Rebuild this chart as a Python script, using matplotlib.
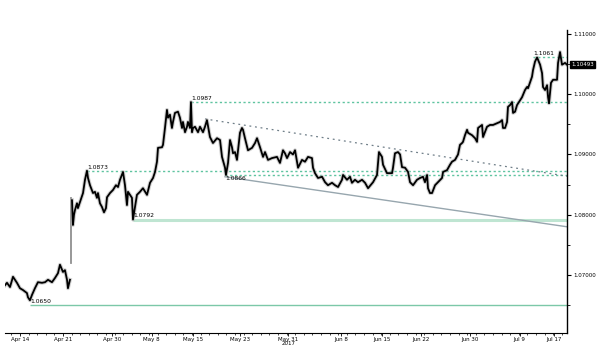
import matplotlib.pyplot as plt
from matplotlib.ticker import MultipleLocator, FixedLocator

# EUR/USD, trading-day offsets from Apr 14 2017 (weekends removed)
day_before = [-1.74, -1.51, -1.16, -0.81, -0.35, 0.00, 0.35, 0.81, 0.93, 1.16, 1.40, 1.74,
              2.09, 2.56, 2.91, 3.26, 3.72, 4.07, 4.42, 4.65, 5.00, 5.23, 5.47, 5.58, 5.81]
price_before = [1.0683, 1.0687, 1.0680, 1.0697, 1.0687, 1.0678, 1.0675, 1.0670, 1.0663, 1.0658,
                1.0667, 1.0678, 1.0688, 1.0687, 1.0688, 1.0692, 1.0688, 1.0695, 1.0703, 1.0717,
                1.0705, 1.0708, 1.0692, 1.0678, 1.0692]

# weekend gap (French election)
gap_day = 5.9
gap_lo, gap_hi = 1.0720, 1.0828

day_after = [6.05, 6.16, 6.28, 6.40, 6.63, 6.74, 6.98, 7.33, 7.56, 7.79, 7.91, 8.14, 8.49, 8.72,
             8.95, 9.07, 9.30, 9.53, 9.77, 10.00, 10.12, 10.47, 10.81, 11.16, 11.40, 11.63, 11.98,
             12.21, 12.44, 12.56, 13.02, 13.14, 13.60, 13.95, 14.30, 14.77, 15.12, 15.47, 15.70,
             15.93, 16.05, 16.51, 16.63, 16.86, 17.09, 17.21, 17.44, 17.67, 17.79, 18.02, 18.37,
             18.60, 18.84, 18.95, 19.19, 19.42, 19.53, 19.77, 19.88, 20.00, 20.12, 20.35, 20.70,
             20.93, 21.28, 21.51, 21.74, 22.09, 22.44, 22.91, 23.26, 23.49, 23.84, 23.95, 24.19,
             24.42, 24.65, 24.77, 25.00, 25.23, 25.58, 25.81, 25.93, 26.16, 26.51, 26.98, 27.33,
             27.56, 27.91, 28.26, 28.49, 28.84, 29.30, 29.88, 30.23, 30.58, 30.81, 31.05, 31.40,
             31.74, 31.98, 32.33, 32.79, 33.14, 33.49, 33.95, 34.07, 34.30, 34.65, 35.12, 35.47,
             35.81, 36.28, 36.63, 36.98, 37.44, 37.56, 38.02, 38.37, 38.60, 38.95, 39.30, 39.77,
             40.12, 40.47, 41.05, 41.51, 41.74, 42.09, 42.21, 42.67, 43.26, 43.37, 43.60, 43.95,
             44.19, 44.42, 44.77, 45.12, 45.35, 45.70, 46.16, 46.51, 46.86, 47.09, 47.33, 47.44,
             47.67, 47.91, 48.26, 48.60, 49.07, 49.19, 49.65, 50.00, 50.23, 50.58, 50.93, 51.16,
             51.40, 51.51, 51.74, 51.98, 52.09, 52.56, 52.91, 53.14, 53.26, 53.72, 53.84, 54.30,
             54.65, 55.00, 55.47, 55.81, 56.05, 56.16, 56.40, 56.63, 56.74, 56.98, 57.21, 57.33,
             57.56, 57.79, 58.14, 58.37, 58.72, 58.95, 59.07, 59.53, 59.65, 59.88, 60.12, 60.47,
             60.70, 60.81, 61.05, 61.28, 61.40, 61.51, 61.74, 61.98, 62.44, 62.56, 62.79, 63.02,
             63.37, 63.60]
price_after = [1.0824, 1.0783, 1.0800, 1.0808, 1.0819, 1.0811, 1.0821, 1.0836, 1.0858, 1.0873,
               1.0861, 1.0849, 1.0836, 1.0838, 1.0828, 1.0836, 1.0819, 1.0813, 1.0804, 1.0811,
               1.0829, 1.0836, 1.0841, 1.0849, 1.0846, 1.0858, 1.0871, 1.0849, 1.0816, 1.0838,
               1.0828, 1.0792, 1.0833, 1.0838, 1.0844, 1.0833, 1.0853, 1.0861, 1.0871, 1.0888,
               1.0911, 1.0912, 1.0916, 1.0944, 1.0974, 1.0961, 1.0966, 1.0944, 1.0954, 1.0969,
               1.0971, 1.0961, 1.0944, 1.0954, 1.0937, 1.0946, 1.0954, 1.0944, 1.0987, 1.0937,
               1.0944, 1.0946, 1.0937, 1.0946, 1.0937, 1.0946, 1.0957, 1.0929, 1.0919, 1.0927,
               1.0924, 1.0896, 1.0878, 1.0866, 1.0886, 1.0924, 1.0912, 1.0902, 1.0904, 1.0891,
               1.0936, 1.0944, 1.0941, 1.0927, 1.0907, 1.0911, 1.0919, 1.0927, 1.0912, 1.0896,
               1.0904, 1.0891, 1.0894, 1.0896, 1.0886, 1.0907, 1.0902, 1.0894, 1.0904, 1.0900,
               1.0907, 1.0878, 1.0891, 1.0888, 1.0896, 1.0894, 1.0878, 1.0869, 1.0861, 1.0863,
               1.0854, 1.0849, 1.0853, 1.0849, 1.0846, 1.0858, 1.0866, 1.0858, 1.0863, 1.0853,
               1.0858, 1.0854, 1.0858, 1.0853, 1.0844, 1.0854, 1.0866, 1.0904, 1.0896, 1.0883,
               1.0869, 1.0869, 1.0878, 1.0902, 1.0904, 1.0900, 1.0879, 1.0878, 1.0871, 1.0854,
               1.0849, 1.0858, 1.0861, 1.0863, 1.0854, 1.0866, 1.0844, 1.0836, 1.0836, 1.0849,
               1.0854, 1.0861, 1.0871, 1.0874, 1.0883, 1.0888, 1.0891, 1.0900, 1.0916, 1.0919,
               1.0921, 1.0932, 1.0941, 1.0936, 1.0932, 1.0927, 1.0921, 1.0944, 1.0949, 1.0929,
               1.0946, 1.0949, 1.0949, 1.0952, 1.0954, 1.0957, 1.0944, 1.0944, 1.0954, 1.0979,
               1.0982, 1.0987, 1.0969, 1.0971, 1.0982, 1.0990, 1.0995, 1.1007, 1.1012, 1.1010,
               1.1029, 1.1040, 1.1054, 1.1061, 1.1049, 1.1035, 1.1012, 1.1007, 1.1015, 1.0995,
               1.0985, 1.1019, 1.1024, 1.1024, 1.1052, 1.1070, 1.1049, 1.1052, 1.1049]

last_price = 1.10493

# marked levels and the day each line starts
dotted_levels = [1.0987, 1.0873, 1.0866, 1.1061]
dotted_start = [19.88, 7.79, 23.84, 59.65]
solid_levels = [1.0792, 1.0650]
solid_start = [13.14, 1.16]

# trend lines
resist_day = [21.51, 63.6]
resist_price = [1.0959, 1.0864]
support_day = [23.84, 63.6]
support_price = [1.0863, 1.0780]

tick_days = [0.0, 5.0, 10.7, 15.3, 20.1, 25.6, 31.2, 37.3, 42.1, 46.6, 52.3, 58.1, 62.1]
tick_labels = ['Apr 14', 'Apr 21', 'Apr 30', 'May 8', 'May 15', 'May 23', 'May 31',
               'Jun 8', 'Jun 15', 'Jun 22', 'Jun 30', 'Jul 9', 'Jul 17']

x0, x1 = -1.74, 63.6
y0, y1 = 1.06037, 1.11066

fig = plt.figure(figsize=(6, 3.53), dpi=100)
ax = fig.add_axes([5 / 600, 20 / 353, 562 / 600, 303 / 353])
ax.set_xlim(x0, x1)
ax.set_ylim(y0, y1)

lvl_color = '#5fc4a0'
for v, s in zip(dotted_levels, dotted_start):
    ax.hlines(v, s, x1, colors=lvl_color, linestyles=(0, (1.6, 1.8)), lw=1.0, zorder=1)
ax.hlines(solid_levels[0], solid_start[0], x1, colors='#bfe5d2', lw=2.2, zorder=1)
ax.hlines(solid_levels[1], solid_start[1], x1, colors='#7cc8a8', lw=1.0, zorder=1)

ax.plot(resist_day, resist_price, color='#6f7e88', lw=0.9, ls=(0, (1.5, 3)), zorder=1)
ax.plot(support_day, support_price, color='#97a6ae', lw=1.0, zorder=1)

# price line
ax.plot(day_before, price_before, color='#b0b0b0', lw=2.8, alpha=0.6, zorder=2)
ax.plot(day_before, price_before, color='black', lw=1.3, zorder=3)
ax.plot([gap_day, gap_day], [gap_lo, gap_hi], color='#909090', lw=1.3, zorder=2)
ax.plot(day_after, price_after, color='#b0b0b0', lw=2.8, alpha=0.6, zorder=2)
ax.plot(day_after, price_after, color='black', lw=1.3, zorder=3)

# level labels
fs = 4.3
for v, s in zip(dotted_levels, dotted_start):
    if v == 1.0866:
        ax.text(s, v - 0.0002, f'{v:.4f}', fontsize=fs, va='top', ha='left')
    else:
        ax.text(s, v + 0.0002, f'{v:.4f}', fontsize=fs, va='bottom', ha='left')
for v, s in zip(solid_levels, solid_start):
    ax.text(s, v + 0.0002, f'{v:.4f}', fontsize=fs, va='bottom', ha='left')

# axes styling
for side in ['left', 'top']:
    ax.spines[side].set_visible(False)
ax.spines['right'].set_linewidth(1.0)
ax.spines['bottom'].set_linewidth(0.8)
ax.yaxis.tick_right()
ax.yaxis.set_major_locator(MultipleLocator(0.01))
ax.yaxis.set_minor_locator(MultipleLocator(0.005))
ax.yaxis.set_major_formatter(plt.FuncFormatter(lambda v, p: f'{v:.5f}'))
ax.tick_params(axis='y', which='major', length=3, width=0.8, labelsize=4, pad=1.5)
ax.tick_params(axis='y', which='minor', length=2, width=0.6)

ax.xaxis.set_major_locator(FixedLocator(tick_days))
ax.set_xticklabels(tick_labels)
ax.xaxis.set_minor_locator(MultipleLocator(1))
ax.tick_params(axis='x', which='major', length=2, width=0.6, labelsize=4, pad=0.8)
ax.tick_params(axis='x', which='minor', length=1.5, width=0.5)
ax.text(31.2, -0.027, '2017', transform=ax.get_xaxis_transform(), fontsize=4,
        ha='center', va='top')

# last price tag
ax.annotate(f'{last_price:.5f}', xy=(1.0, last_price), xycoords=('axes fraction', 'data'),
            xytext=(3, 0), textcoords='offset points', fontsize=4, color='white',
            va='center', ha='left',
            bbox=dict(boxstyle='square,pad=0.25', fc='black', ec='black'))

fig.savefig('out.png', dpi=100)
